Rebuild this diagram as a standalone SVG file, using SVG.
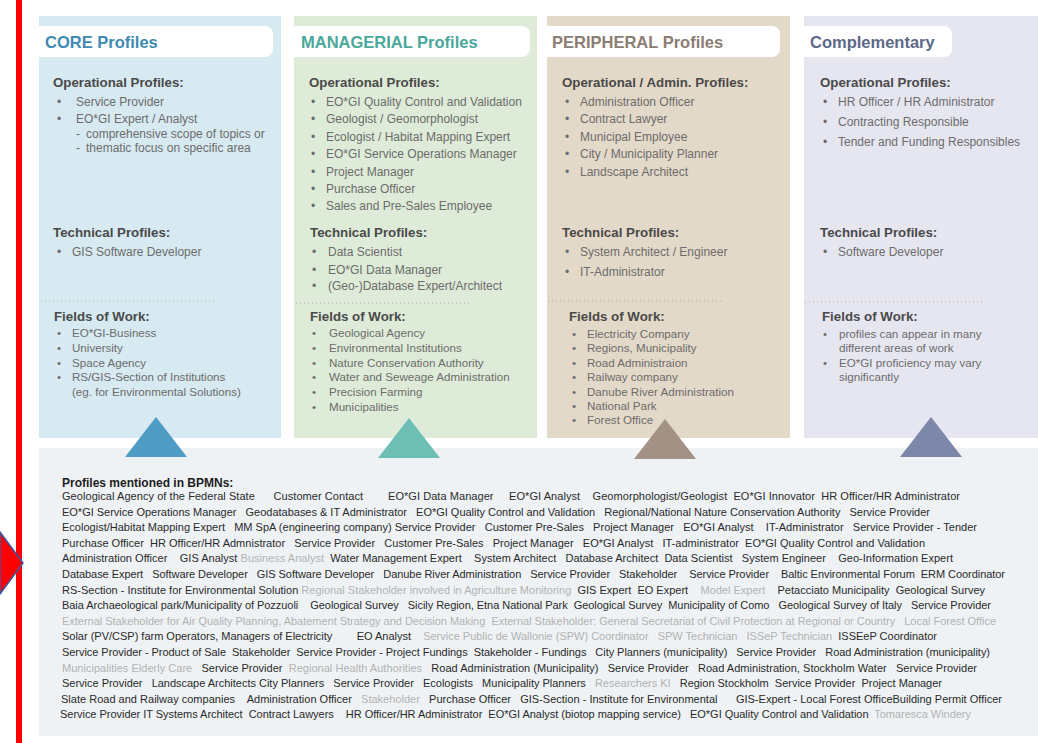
<svg xmlns="http://www.w3.org/2000/svg" width="1038" height="743" viewBox="0 0 1038 743">
<style>
text{font-family:"Liberation Sans",Arial,sans-serif}
.hd{font-size:16.5px;font-weight:bold}
.sh{font-size:13.3px;font-weight:bold;fill:#4a4a4a}
.it{font-size:12px;fill:#6c6c6c}
.fi{font-size:11.6px;fill:#6c6c6c}
.bt{font-size:11px;fill:#2a2a2a}
.gr{fill:#b2b2b2}
.dot{stroke:#a9a9a9;stroke-width:1.2;stroke-dasharray:1 3;fill:none}
.tab{fill:#ffffff}
</style>
<rect x="0" y="0" width="1038" height="743" fill="#ffffff"/>

<g id="core">
<rect x="39" y="16" width="242" height="422" fill="#d7e9f1"/>
<path class="tab" d="M39 26H265a8 8 0 0 1 8 8V49a8 8 0 0 1-8 8H39Z"/>
<text class="hd" x="45" y="48" fill="#3f8ab3">CORE Profiles</text>
<text class="sh" x="53" y="86.5">Operational Profiles:</text>
<text class="it" x="57" y="106">•</text><text class="it" x="76" y="106">Service Provider</text>
<text class="it" x="57" y="123">•</text><text class="it" x="76" y="123">EO*GI Expert / Analyst</text>
<text class="it" x="76" y="138">-</text><text class="it" x="86" y="138">comprehensive scope of topics or</text>
<text class="it" x="76" y="152">-</text><text class="it" x="86" y="152">thematic focus on specific area</text>
<text class="sh" x="53" y="236.5">Technical Profiles:</text>
<text class="it" x="57" y="256">•</text><text class="it" x="72" y="256">GIS Software Developer</text>
<line class="dot" x1="41" y1="301" x2="215" y2="301"/>
<text class="sh" x="54" y="320.5">Fields of Work:</text>
<text class="fi" x="57" y="337">•</text><text class="fi" x="72" y="337">EO*GI-Business</text>
<text class="fi" x="57" y="352">•</text><text class="fi" x="72" y="352">University</text>
<text class="fi" x="57" y="367">•</text><text class="fi" x="72" y="367">Space Agency</text>
<text class="fi" x="57" y="381">•</text><text class="fi" x="72" y="381">RS/GIS-Section of Institutions</text>
<text class="fi" x="72" y="396">(eg. for Environmental Solutions)</text>
</g>

<g id="managerial">
<rect x="294" y="16" width="243" height="422" fill="#deebd8"/>
<path class="tab" d="M294 26H522a8 8 0 0 1 8 8V49a8 8 0 0 1-8 8H294Z"/>
<text class="hd" x="301" y="48" fill="#4aa89b">MANAGERIAL Profiles</text>
<text class="sh" x="309" y="86.5">Operational Profiles:</text>
<text class="it" x="311" y="106">•</text><text class="it" x="326" y="106">EO*GI Quality Control and Validation</text>
<text class="it" x="311" y="123.4">•</text><text class="it" x="326" y="123.4">Geologist / Geomorphologist</text>
<text class="it" x="311" y="140.8">•</text><text class="it" x="326" y="140.8">Ecologist / Habitat Mapping Expert</text>
<text class="it" x="311" y="158.2">•</text><text class="it" x="326" y="158.2">EO*GI Service Operations Manager</text>
<text class="it" x="311" y="175.6">•</text><text class="it" x="326" y="175.6">Project Manager</text>
<text class="it" x="311" y="193">•</text><text class="it" x="326" y="193">Purchase Officer</text>
<text class="it" x="311" y="210.4">•</text><text class="it" x="326" y="210.4">Sales and Pre-Sales Employee</text>
<text class="sh" x="310" y="236.5">Technical Profiles:</text>
<text class="it" x="312" y="256">•</text><text class="it" x="328" y="256">Data Scientist</text>
<text class="it" x="312" y="274">•</text><text class="it" x="328" y="274">EO*GI Data Manager</text>
<text class="it" x="312" y="290">•</text><text class="it" x="328" y="290">(Geo-)Database Expert/Architect</text>
<line class="dot" x1="296" y1="303" x2="470" y2="303"/>
<text class="sh" x="310" y="320.5">Fields of Work:</text>
<text class="fi" x="312" y="337">•</text><text class="fi" x="329" y="337">Geological Agency</text>
<text class="fi" x="312" y="352">•</text><text class="fi" x="329" y="352">Environmental Institutions</text>
<text class="fi" x="312" y="366.5">•</text><text class="fi" x="329" y="366.5">Nature Conservation Authority</text>
<text class="fi" x="312" y="381">•</text><text class="fi" x="329" y="381">Water and Seweage Administration</text>
<text class="fi" x="312" y="396">•</text><text class="fi" x="329" y="396">Precision Farming</text>
<text class="fi" x="312" y="410.5">•</text><text class="fi" x="329" y="410.5">Municipalities</text>
</g>

<g id="peripheral">
<rect x="547" y="16" width="243" height="422" fill="#e3d9c8"/>
<path class="tab" d="M547 26H772a8 8 0 0 1 8 8V49a8 8 0 0 1-8 8H547Z"/>
<text class="hd" x="552" y="48" fill="#8b7d73">PERIPHERAL Profiles</text>
<text class="sh" x="562" y="86.5">Operational / Admin. Profiles:</text>
<text class="it" x="565" y="106">•</text><text class="it" x="580" y="106">Administration Officer</text>
<text class="it" x="565" y="123.4">•</text><text class="it" x="580" y="123.4">Contract Lawyer</text>
<text class="it" x="565" y="140.8">•</text><text class="it" x="580" y="140.8">Municipal Employee</text>
<text class="it" x="565" y="158.2">•</text><text class="it" x="580" y="158.2">City / Municipality Planner</text>
<text class="it" x="565" y="175.6">•</text><text class="it" x="580" y="175.6">Landscape Architect</text>
<text class="sh" x="562" y="236.5">Technical Profiles:</text>
<text class="it" x="565" y="256">•</text><text class="it" x="580" y="256">System Architect / Engineer</text>
<text class="it" x="565" y="276">•</text><text class="it" x="580" y="276">IT-Administrator</text>
<line class="dot" x1="548" y1="301" x2="722" y2="301"/>
<text class="sh" x="569" y="320.5">Fields of Work:</text>
<text class="fi" x="572" y="338">•</text><text class="fi" x="587" y="338">Electricity Company</text>
<text class="fi" x="572" y="352.4">•</text><text class="fi" x="587" y="352.4">Regions, Municipality</text>
<text class="fi" x="572" y="366.8">•</text><text class="fi" x="587" y="366.8">Road Administraion</text>
<text class="fi" x="572" y="381.2">•</text><text class="fi" x="587" y="381.2">Railway company</text>
<text class="fi" x="572" y="395.6">•</text><text class="fi" x="587" y="395.6">Danube River Administration</text>
<text class="fi" x="572" y="410">•</text><text class="fi" x="587" y="410">National Park</text>
<text class="fi" x="572" y="424.4">•</text><text class="fi" x="587" y="424.4">Forest Office</text>
</g>

<g id="complementary">
<rect x="804" y="16" width="234" height="422" fill="#e6e6f1"/>
<path class="tab" d="M804 26H944a8 8 0 0 1 8 8V49a8 8 0 0 1-8 8H804Z"/>
<text class="hd" x="810" y="48" fill="#5d6889">Complementary</text>
<text class="sh" x="820" y="86.5">Operational Profiles:</text>
<text class="it" x="823" y="106">•</text><text class="it" x="838" y="106">HR Officer / HR Administrator</text>
<text class="it" x="823" y="126">•</text><text class="it" x="838" y="126">Contracting Responsible</text>
<text class="it" x="823" y="146">•</text><text class="it" x="838" y="146">Tender and Funding Responsibles</text>
<text class="sh" x="820" y="236.5">Technical Profiles:</text>
<text class="it" x="823" y="256">•</text><text class="it" x="838" y="256">Software Developer</text>
<line class="dot" x1="805" y1="302" x2="982" y2="302"/>
<text class="sh" x="822" y="320.5">Fields of Work:</text>
<text class="fi" x="823" y="338">•</text><text class="fi" x="839" y="338">profiles can appear in many</text>
<text class="fi" x="839" y="352">different areas of work</text>
<text class="fi" x="823" y="366.5">•</text><text class="fi" x="839" y="366.5">EO*GI proficiency may vary</text>
<text class="fi" x="839" y="381">significantly</text>
</g>

<g id="bpmn-profiles">
<rect x="39" y="448" width="999" height="288" fill="#eef2f5"/>
<text x="62" y="487" font-size="12" font-weight="bold" fill="#1e1e1e">Profiles mentioned in BPMNs:</text>
<text class="bt" xml:space="preserve" x="62" y="500" textLength="898" lengthAdjust="spacing">Geological Agency of the Federal State      Customer Contact        EO*GI Data Manager     EO*GI Analyst    Geomorphologist/Geologist  EO*GI Innovator  HR Officer/HR Administrator</text>
<text class="bt" xml:space="preserve" x="62" y="515.6" textLength="868" lengthAdjust="spacing">EO*GI Service Operations Manager   Geodatabases &amp; IT Administrator   EO*GI Quality Control and Validation   Regional/National Nature Conservation Authority   Service Provider</text>
<text class="bt" xml:space="preserve" x="62" y="531.2" textLength="915" lengthAdjust="spacing">Ecologist/Habitat Mapping Expert   MM SpA (engineering company) Service Provider   Customer Pre-Sales   Project Manager   EO*GI Analyst    IT-Administrator   Service Provider - Tender</text>
<text class="bt" xml:space="preserve" x="62" y="546.8" textLength="863" lengthAdjust="spacing">Purchase Officer  HR Officer/HR Admnistrator   Service Provider   Customer Pre-Sales   Project Manager   EO*GI Analyst   IT-administrator  EO*GI Quality Control and Validation</text>
<text class="bt" xml:space="preserve" x="62" y="562.4" textLength="891" lengthAdjust="spacing">Administration Officer    GIS Analyst <tspan class="gr">Business Analyst</tspan>  Water Management Expert    System Architect   Database Architect  Data Scientist   System Engineer    Geo-Information Expert</text>
<text class="bt" xml:space="preserve" x="62" y="578" textLength="943" lengthAdjust="spacing">Database Expert   Software Developer   GIS Software Developer   Danube River Administration   Service Provider   Stakeholder    Service Provider    Baltic Environmental Forum  ERM Coordinator</text>
<text class="bt" xml:space="preserve" x="62" y="593.6" textLength="923" lengthAdjust="spacing">RS-Section - Institute for Environmental Solution <tspan class="gr">Regional Stakeholder involved in Agriculture Monitoring</tspan>  GIS Expert  EO Expert    <tspan class="gr">Model Expert</tspan>    Petacciato Municipality  Geological Survey</text>
<text class="bt" xml:space="preserve" x="62" y="609.2" textLength="929" lengthAdjust="spacing">Baia Archaeological park/Municipality of Pozzuoli    Geological Survey   Sicily Region, Etna National Park  Geological Survey  Municipality of Como   Geological Survey of Italy   Service Provider</text>
<text class="bt gr" xml:space="preserve" x="62" y="624.8" textLength="934" lengthAdjust="spacing">External Stakeholder for Air Quality Planning, Abatement Strategy and Decision Making  External Stakeholder: General Secretariat of Civil Protection at Regional or Country   Local Forest Office</text>
<text class="bt" xml:space="preserve" x="62" y="640.4" textLength="875" lengthAdjust="spacing">Solar (PV/CSP) farm Operators, Managers of Electricity        EO Analyst    <tspan class="gr">Service Public de Wallonie (SPW) Coordinator   SPW Technician   ISSeP Technician</tspan>  ISSEeP Coordinator</text>
<text class="bt" xml:space="preserve" x="62" y="656" textLength="928" lengthAdjust="spacing">Service Provider - Product of Sale  Stakeholder  Service Provider - Project Fundings  Stakeholder - Fundings   City Planners (municipality)   Service Provider   Road Administration (municipality)</text>
<text class="bt" xml:space="preserve" x="62" y="671.6" textLength="915" lengthAdjust="spacing"><tspan class="gr">Municipalities Elderly Care</tspan>   Service Provider  <tspan class="gr">Regional Health Authorities</tspan>   Road Administration (Municipality)   Service Provider   Road Administration, Stockholm Water   Service Provider</text>
<text class="bt" xml:space="preserve" x="62" y="687.2" textLength="880" lengthAdjust="spacing">Service Provider   Landscape Architects City Planners   Service Provider   Ecologists   Municipality Planners   <tspan class="gr">Researchers KI</tspan>   Region Stockholm  Service Provider  Project Manager</text>
<text class="bt" xml:space="preserve" x="61" y="702.8" textLength="941" lengthAdjust="spacing">Slate Road and Railway companies    Administration Officer   <tspan class="gr">Stakeholder</tspan>   Purchase Officer   GIS-Section - Institute for Environmental      GIS-Expert - Local Forest OfficeBuilding Permit Officer</text>
<text class="bt" xml:space="preserve" x="60" y="718.4" textLength="911" lengthAdjust="spacing">Service Provider IT Systems Architect  Contract Lawyers    HR Officer/HR Administrator  EO*GI Analyst (biotop mapping service)   EO*GI Quality Control and Validation  <tspan class="gr">Tomaresca Windery</tspan></text>
</g>

<g id="connectors">
<polygon points="156,417 125,457 187,457" fill="#4f9cc4"/>
<polygon points="409,418 378,458 440,458" fill="#6dbfb4"/>
<polygon points="665,419 634,459 696,459" fill="#a39185"/>
<polygon points="931,417 900,457 962,457" fill="#7d87a9"/>
</g>

<g id="left-marker">
<rect x="16" y="0" width="6" height="743" fill="#ff0000"/>
<polygon points="0,532 23,563 0,594" fill="#ff0000" stroke="#3b5aa6" stroke-width="1.5"/>
</g>
</svg>
